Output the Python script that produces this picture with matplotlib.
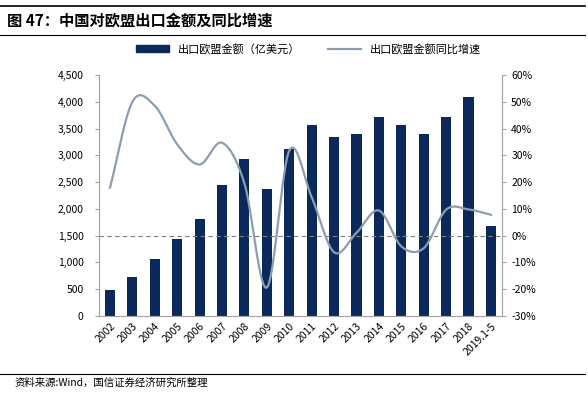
import numpy as np
import matplotlib.pyplot as plt
from matplotlib.ticker import FuncFormatter, MultipleLocator
from matplotlib.lines import Line2D

plt.rcParams['font.family'] = ['Noto Sans CJK SC', 'DejaVu Sans']

years = ['2002', '2003', '2004', '2005', '2006', '2007', '2008', '2009', '2010',
         '2011', '2012', '2013', '2014', '2015', '2016', '2017', '2018', '2019.1-5']
export_amt = [482, 722, 1072, 1437, 1820, 2452, 2929, 2363, 3112,
              3560, 3340, 3390, 3708, 3559, 3390, 3720, 4086, 1680]
export_yoy = [17.9, 50.0, 48.5, 34.1, 26.6, 34.7, 19.5, -19.4, 31.8,
              14.4, -6.2, 1.1, 9.4, -4.0, -4.7, 9.7, 9.8, 7.8]

bar_color = '#0B2A5B'
line_color = '#8C9DB2'
axis_color = '#A6A6A6'


def smooth(x, y, n=20):
    # catmull-rom style smoothing, like the excel "smoothed line"
    x = np.asarray(x, float)
    y = np.asarray(y, float)
    px = np.concatenate([[2 * x[0] - x[1]], x, [2 * x[-1] - x[-2]]])
    py = np.concatenate([[2 * y[0] - y[1]], y, [2 * y[-1] - y[-2]]])
    xs, ys = [], []
    t = np.linspace(0, 1, n, endpoint=False)
    for i in range(1, len(px) - 2):
        for p, out in ((px, xs), (py, ys)):
            p0, p1, p2, p3 = p[i - 1], p[i], p[i + 1], p[i + 2]
            out.extend(0.5 * (2 * p1 + (-p0 + p2) * t
                              + (2 * p0 - 5 * p1 + 4 * p2 - p3) * t ** 2
                              + (-p0 + 3 * p1 - 3 * p2 + p3) * t ** 3))
    xs.append(x[-1])
    ys.append(y[-1])
    return np.array(xs), np.array(ys)


fig = plt.figure(figsize=(5.88, 3.93), dpi=100)
ax = fig.add_axes([0.168, 0.196, 0.686, 0.613])
ax2 = ax.twinx()

x = np.arange(len(years))
ax.bar(x, export_amt, width=0.45, color=bar_color, zorder=2)
ax.set_ylim(0, 4500)
ax.set_xlim(-0.5, len(years) - 0.5)
ax.yaxis.set_major_locator(MultipleLocator(500))
ax.yaxis.set_major_formatter(FuncFormatter(lambda v, p: '{:,.0f}'.format(v)))
ax.set_xticks(x)
ax.set_xticklabels(years, rotation=45, ha='right', rotation_mode='anchor')

sx, sy = smooth(x, export_yoy)
ax2.plot(sx, sy, color=line_color, lw=1.6, zorder=3)
ax2.axhline(0, color='#7F7F7F', lw=0.8, ls=(0, (4, 3)), zorder=1)
ax2.set_ylim(-30, 60)
ax2.yaxis.set_major_locator(MultipleLocator(10))
ax2.yaxis.set_major_formatter(FuncFormatter(lambda v, p: '{:.0f}%'.format(v)))

for a in (ax, ax2):
    a.spines['top'].set_visible(False)
    for s in ('left', 'right', 'bottom'):
        a.spines[s].set_color(axis_color)
    a.tick_params(labelsize=7.5, colors=axis_color, labelcolor='black', length=3, width=0.8)
ax.tick_params(axis='y', pad=8)
ax.tick_params(axis='x', length=0)
ax.set_zorder(ax2.get_zorder() - 1)
ax.patch.set_visible(False)
ax2.patch.set_visible(False)

handles = [plt.Rectangle((0, 0), 1, 1, color=bar_color),
           Line2D([0], [0], color=line_color, lw=1.6)]
fig.legend(handles, ['出口欧盟金额（亿美元）', '出口欧盟金额同比增速'],
           loc='center', bbox_to_anchor=(0.525, 0.875), ncol=2, frameon=False,
           fontsize=8, handlelength=3, handleheight=0.6, columnspacing=2.5)

fig.add_artist(Line2D([0.0, 0.995], [0.985, 0.985], color='black', lw=1.2))
fig.add_artist(Line2D([0.0, 0.995], [0.912, 0.912], color='black', lw=0.8))
fig.text(0.012, 0.948, '图 47：中国对欧盟出口金额及同比增速', fontsize=11,
         fontweight='bold', va='center')
fig.add_artist(Line2D([0.0, 0.995], [0.048, 0.048], color='black', lw=0.8))
fig.text(0.025, 0.025, '资料来源:Wind，国信证券经济研究所整理', fontsize=7.5, va='center')

fig.savefig('out.png', dpi=100)
